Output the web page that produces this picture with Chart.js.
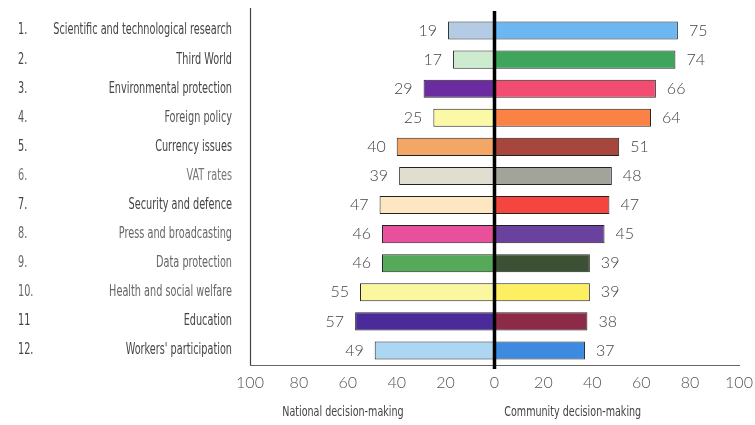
<!DOCTYPE html>
<html>
<head>
<meta charset="utf-8">
<script src="https://cdn.jsdelivr.net/npm/chart.js@4/dist/chart.umd.min.js"></script>
<style>
  html, body { margin: 0; padding: 0; background: #fff; }
  #wrap { width: 755px; height: 425px; position: relative; }
</style>
</head>
<body>
<div id="wrap"><canvas id="c" width="755" height="425"></canvas></div>
<script>
// Policy areas, ranked
const ranks = ['1.', '2.', '3.', '4.', '5.', '6.', '7.', '8.', '9.', '10.', '11', '12.'];
const categories = [
  'Scientific and technological research',
  'Third World',
  'Environmental protection',
  'Foreign policy',
  'Currency issues',
  'VAT rates',
  'Security and defence',
  'Press and broadcasting',
  'Data protection',
  'Health and social welfare',
  'Education',
  "Workers' participation"
];
// Share (%) preferring each level of decision-making
const national = [19, 17, 29, 25, 40, 39, 47, 46, 46, 55, 57, 49];
const community = [75, 74, 66, 64, 51, 48, 47, 45, 39, 39, 38, 37];
const axisTicks = [-100, -80, -60, -40, -20, 0, 20, 40, 60, 80, 100];

const nationalColors = ['#b4cbe6', '#cdeccf', '#6a2c9e', '#fbf8a6', '#f3a666', '#dfded0',
  '#fde6c2', '#e8509c', '#55aa5a', '#fbf7a0', '#4b2a9a', '#acd6f2'];
const communityColors = ['#6cb6f2', '#3fa55c', '#f24c72', '#fa8244', '#a8453c', '#a2a39a',
  '#f4463e', '#6a419e', '#3c5034', '#fcef62', '#8c2a48', '#3d8be0'];
const labelColors = ['#444', '#444', '#444', '#555', '#444', '#777', '#444', '#666', '#666', '#666', '#444', '#444'];

const condensed = '"Liberation Sans Narrow", "DejaVu Sans Condensed", sans-serif';
const round = 'Lato, "Open Sans", sans-serif';

// Draws condensed text by squeezing it horizontally
function squeezed(ctx, text, x, y, align, sx) {
  ctx.save();
  ctx.translate(x, y);
  ctx.scale(sx, 1);
  ctx.textAlign = align;
  ctx.fillText(text, 0, 0);
  ctx.restore();
}

const decorations = {
  id: 'decorations',
  afterDatasetsDraw(chart) {
    const { ctx, chartArea, scales } = chart;
    const xs = scales.x, ys = scales.y;
    ctx.save();
    // left frame line
    ctx.strokeStyle = '#444';
    ctx.lineWidth = 1.2;
    ctx.beginPath();
    ctx.moveTo(chartArea.left + 0.5, chartArea.top - 8);
    ctx.lineTo(chartArea.left + 0.5, chartArea.bottom);
    ctx.stroke();
    // heavy zero line
    const zx = xs.getPixelForValue(0);
    ctx.strokeStyle = '#000';
    ctx.lineWidth = 3.5;
    ctx.beginPath();
    ctx.moveTo(zx, chartArea.top - 5);
    ctx.lineTo(zx, chartArea.bottom + 4);
    ctx.stroke();

    // row numbers and names
    ctx.textBaseline = 'middle';
    ctx.font = '15px ' + condensed;
    categories.forEach((name, i) => {
      const y = ys.getPixelForValue(i);
      ctx.fillStyle = labelColors[i];
      squeezed(ctx, ranks[i], 18, y, 'left', 0.72);
      squeezed(ctx, name, chartArea.left - 18, y, 'right', 0.72);
    });

    // value labels beside the bars
    ctx.font = '300 16px ' + round;
    national.forEach((v, i) => {
      const y = ys.getPixelForValue(i);
      ctx.fillStyle = '#444';
      ctx.textAlign = 'right';
      ctx.fillText(String(v), xs.getPixelForValue(-v) - 11, y);
      ctx.textAlign = 'left';
      ctx.fillText(String(community[i]), xs.getPixelForValue(community[i]) + 11, y);
    });

    // axis captions
    ctx.fillStyle = '#444';
    ctx.font = '14px ' + condensed;
    const capY = chartArea.bottom + 47;
    squeezed(ctx, 'National decision-making', xs.getPixelForValue(-62), capY, 'center', 0.76);
    squeezed(ctx, 'Community decision-making', xs.getPixelForValue(32), capY, 'center', 0.76);
    ctx.restore();
  }
};

new Chart(document.getElementById('c'), {
  type: 'bar',
  data: {
    labels: categories,
    datasets: [
      {
        label: 'National decision-making',
        data: national.map(v => -v),
        backgroundColor: nationalColors,
        borderColor: '#222',
        borderWidth: 1,
        borderSkipped: false
      },
      {
        label: 'Community decision-making',
        data: community,
        backgroundColor: communityColors,
        borderColor: '#222',
        borderWidth: 1,
        borderSkipped: false
      }
    ]
  },
  options: {
    indexAxis: 'y',
    responsive: false,
    animation: false,
    layout: { autoPadding: false, padding: { top: 16, right: 16, left: 0, bottom: 0 } },
    datasets: { bar: { categoryPercentage: 1, barPercentage: 0.62 } },
    plugins: { legend: { display: false }, tooltip: { enabled: false } },
    scales: {
      x: {
        stacked: true,
        min: -100,
        max: 100,
        afterBuildTicks(scale) { scale.ticks = axisTicks.map(v => ({ value: v })); },
        afterFit(scale) {
          scale.height = 60;
          scale.paddingLeft = 0;
          scale.paddingRight = 0;
        },
        grid: { display: false, drawTicks: false },
        border: { display: true, color: '#666', width: 1 },
        ticks: {
          padding: 8,
          color: '#555',
          font: { family: round, size: 16, weight: '300' },
          callback: v => String(Math.abs(v))
        }
      },
      y: {
        stacked: true,
        afterFit(scale) { scale.width = 250; },
        grid: { display: false, drawTicks: false },
        border: { display: false },
        ticks: { display: false }
      }
    }
  },
  plugins: [decorations]
});
</script>
</body>
</html>
